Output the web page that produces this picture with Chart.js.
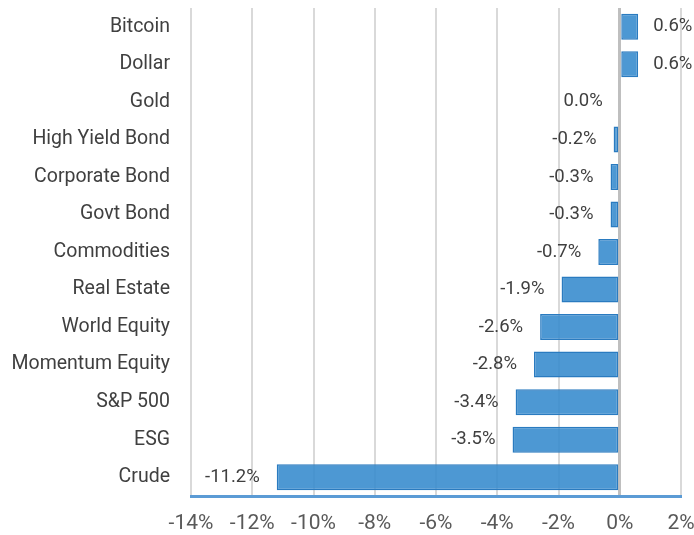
<!DOCTYPE html>
<html>
<head>
<meta charset="utf-8">
<script src="https://cdn.jsdelivr.net/npm/chart.js@4"></script>
<style>
  html, body { margin: 0; padding: 0; background: #fff; }
  #wrap { width: 694px; height: 535px; }
</style>
</head>
<body>
<div id="wrap"><canvas id="chart"></canvas></div>
<script>
// asset returns
const assets = ['Bitcoin', 'Dollar', 'Gold', 'High Yield Bond', 'Corporate Bond', 'Govt Bond',
  'Commodities', 'Real Estate', 'World Equity', 'Momentum Equity', 'S&P 500', 'ESG', 'Crude'];
const returns = [0.6, 0.6, 0.0, -0.2, -0.3, -0.3, -0.7, -1.9, -2.6, -2.8, -3.4, -3.5, -11.2];
const xTicks = [-14, -12, -10, -8, -6, -4, -2, 0, 2];

// value labels beside the bar ends
const barLabels = {
  id: 'barLabels',
  afterDatasetsDraw(chart) {
    const ctx = chart.ctx;
    const meta = chart.getDatasetMeta(0);
    ctx.save();
    ctx.font = '18.5px Roboto, Arial, sans-serif';
    ctx.fillStyle = '#404040';
    ctx.textBaseline = 'middle';
    meta.data.forEach((bar, i) => {
      const v = returns[i];
      const txt = v.toFixed(1) + '%';
      if (v > 0) {
        ctx.textAlign = 'left';
        ctx.fillText(txt, bar.x + 15, bar.y);
      } else {
        ctx.textAlign = 'right';
        ctx.fillText(txt, bar.x - 17, bar.y);
      }
    });
    ctx.restore();
  }
};

new Chart(document.getElementById('chart'), {
  type: 'bar',
  data: {
    labels: assets,
    datasets: [{
      data: returns,
      backgroundColor: 'rgba(52, 138, 205, 0.88)',
      borderColor: '#2a7bc0',
      borderWidth: 1.5,
      borderSkipped: false,
      barPercentage: 0.77,
      categoryPercentage: 0.9
    }]
  },
  options: {
    indexAxis: 'y',
    responsive: true,
    maintainAspectRatio: false,
    animation: false,
    layout: { padding: { top: 8, right: 13, left: 0, bottom: 0 } },
    plugins: { legend: { display: false }, tooltip: { enabled: false } },
    scales: {
      x: {
        min: -14,
        max: 2,
        afterBuildTicks: s => { s.ticks = xTicks.map(v => ({ value: v })); },
        afterFit: s => { s.height = 39; s.paddingLeft = 0; s.paddingRight = 0; },
        ticks: {
          callback: v => v + '%',
          color: '#595959',
          font: { family: 'Roboto, Arial, sans-serif', size: 21 },
          padding: 15,
          maxRotation: 0
        },
        grid: {
          color: c => c.tick && c.tick.value === 0 ? '#bfbfbf' : '#d9d9d9',
          lineWidth: c => c.tick && c.tick.value === 0 ? 3 : 2,
          drawTicks: false
        },
        border: { display: true, color: '#5b9bd5', width: 3 }
      },
      y: {
        afterFit: s => { s.width = 191; s.paddingTop = 0; s.paddingBottom = 0; },
        ticks: {
          color: '#404040',
          font: { family: 'Roboto, Arial, sans-serif', size: 19.5 },
          padding: 13
        },
        grid: { display: false },
        border: { display: false }
      }
    }
  },
  plugins: [barLabels]
});
</script>
</body>
</html>
